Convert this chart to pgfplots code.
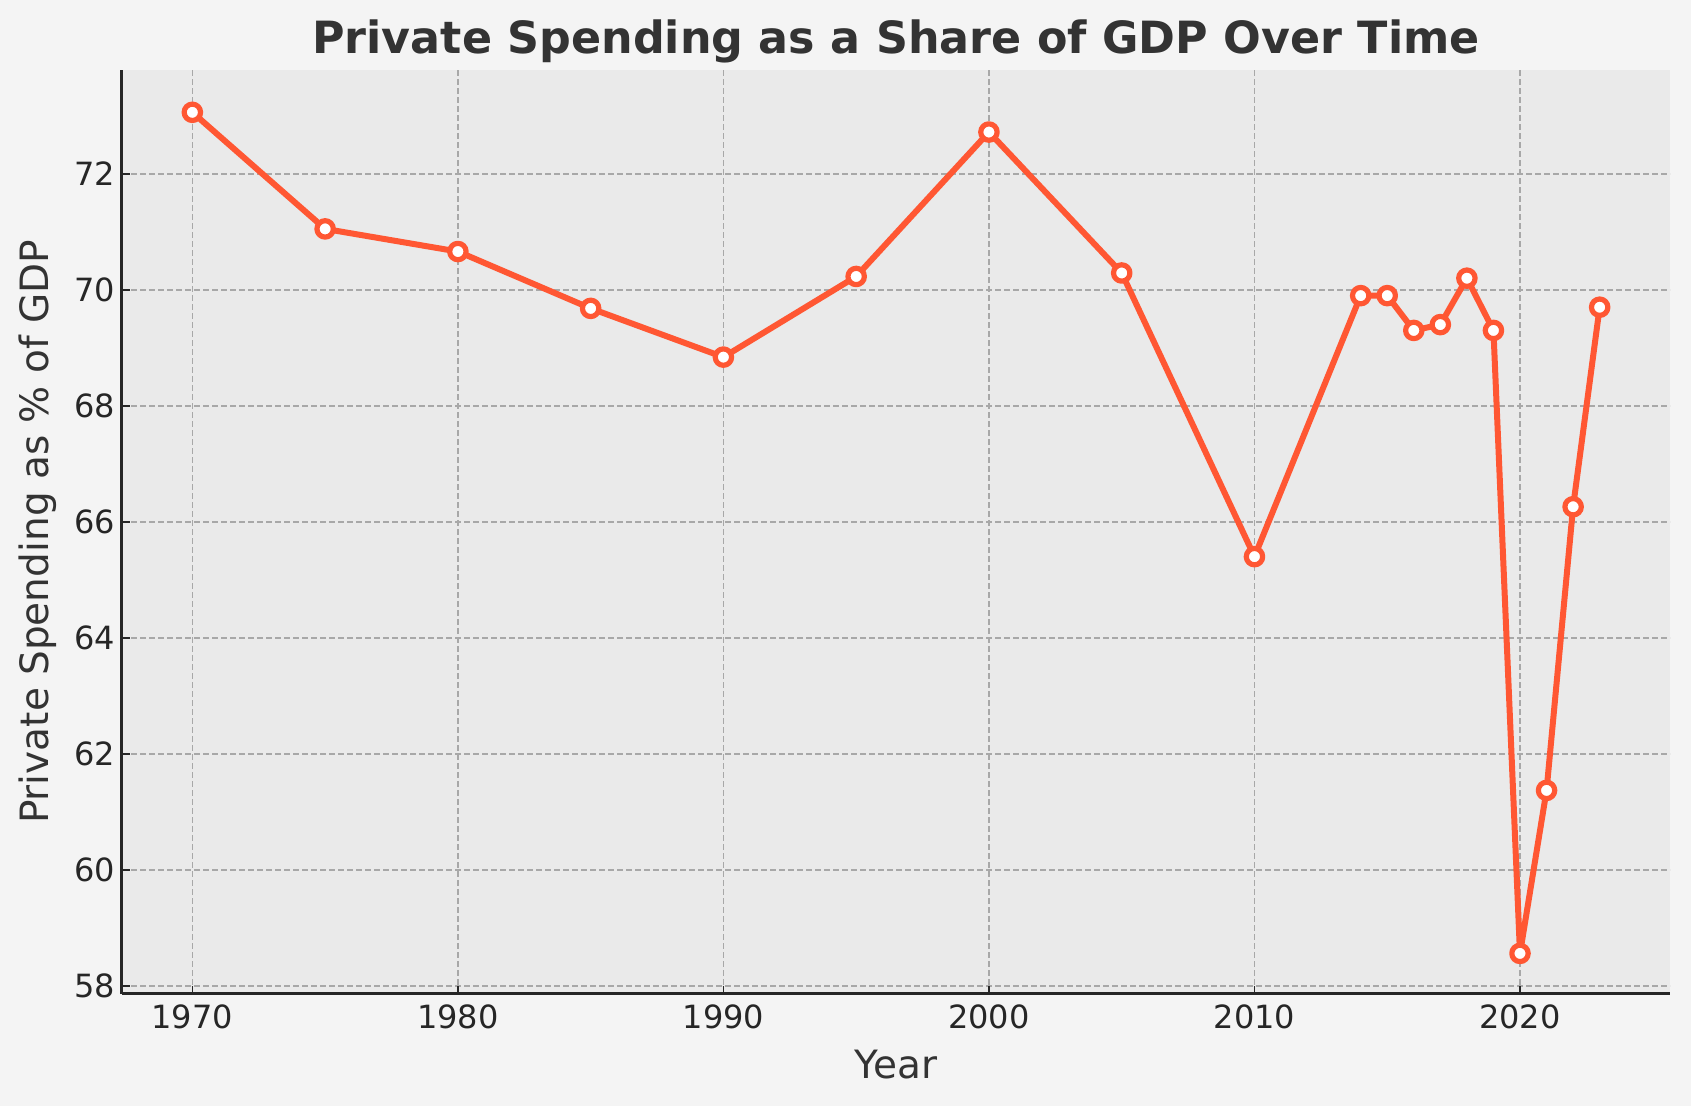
\documentclass[border=0pt]{standalone}
\usepackage{pgfplots}
\pgfplotsset{compat=1.18}
\usepackage{fontspec}
\setmainfont{DejaVu Sans}
\definecolor{figbg}{HTML}{F4F4F4}
\definecolor{axbg}{HTML}{EAEAEA}
\definecolor{lineor}{HTML}{FF5733}
\definecolor{spine}{HTML}{262626}
\definecolor{gridc}{HTML}{A8A8A8}
\definecolor{txt}{HTML}{333333}
\begin{document}
\begin{tikzpicture}
\fill[figbg] (-61pt,-56pt) rectangle (784.5pt,497pt);
\path[use as bounding box] (-61pt,-56pt) rectangle (784.5pt,497pt);
\begin{axis}[
  at={(0,0)}, anchor=south west,
  scale only axis, width=774pt, height=462pt,
  xmin=1967.35, xmax=2025.65, ymin=57.86, ymax=73.79,
  xtick={1970,1980,1990,2000,2010,2020},
  ytick={58,60,62,64,66,68,70,72},
  xticklabel style={/pgf/number format/1000 sep={}, yshift=-2pt},
  /pgf/number format/assume math mode=true,
  tick label style={font=\fontsize{16}{19}\selectfont, text=spine},
  axis x line*=bottom, axis y line*=left,
  axis line style={-, draw=spine, line width=1.5pt},
  tick align=inside, major tick length=4pt,
  tick style={draw=spine, line width=0.8pt},
  axis background/.style={fill=axbg},
  grid=major,
  major grid style={draw=gridc, line width=0.7pt, dash pattern=on 3pt off 1.5pt},
  clip=false,
]
\addplot[draw=lineor, line width=3pt, line join=round, mark=*, mark size=4.1pt,
  mark options={fill=white, draw=lineor, line width=2.6pt, solid}]
  coordinates {
  (1970,73.06) (1975,71.05) (1980,70.66) (1985,69.68) (1990,68.84)
  (1995,70.23) (2000,72.72) (2005,70.29) (2010,65.40) (2014,69.9)
  (2015,69.9) (2016,69.3) (2017,69.4) (2018,70.2) (2019,69.3)
  (2020,58.56) (2021,61.37) (2022,66.26) (2023,69.7)
  };
\end{axis}
\node[anchor=base, text=txt, font=\fontsize{22.2}{26}\selectfont\bfseries] at (387pt,470pt) {Private Spending as a Share of GDP Over Time};
\node[anchor=base, text=txt, font=\fontsize{19.5}{23}\selectfont] at (387pt,-42.5pt) {Year};
\node[anchor=base, rotate=90, text=txt, font=\fontsize{19.5}{23}\selectfont] at (-36.5pt,231pt) {Private Spending as \% of GDP};
\end{tikzpicture}
\end{document}
